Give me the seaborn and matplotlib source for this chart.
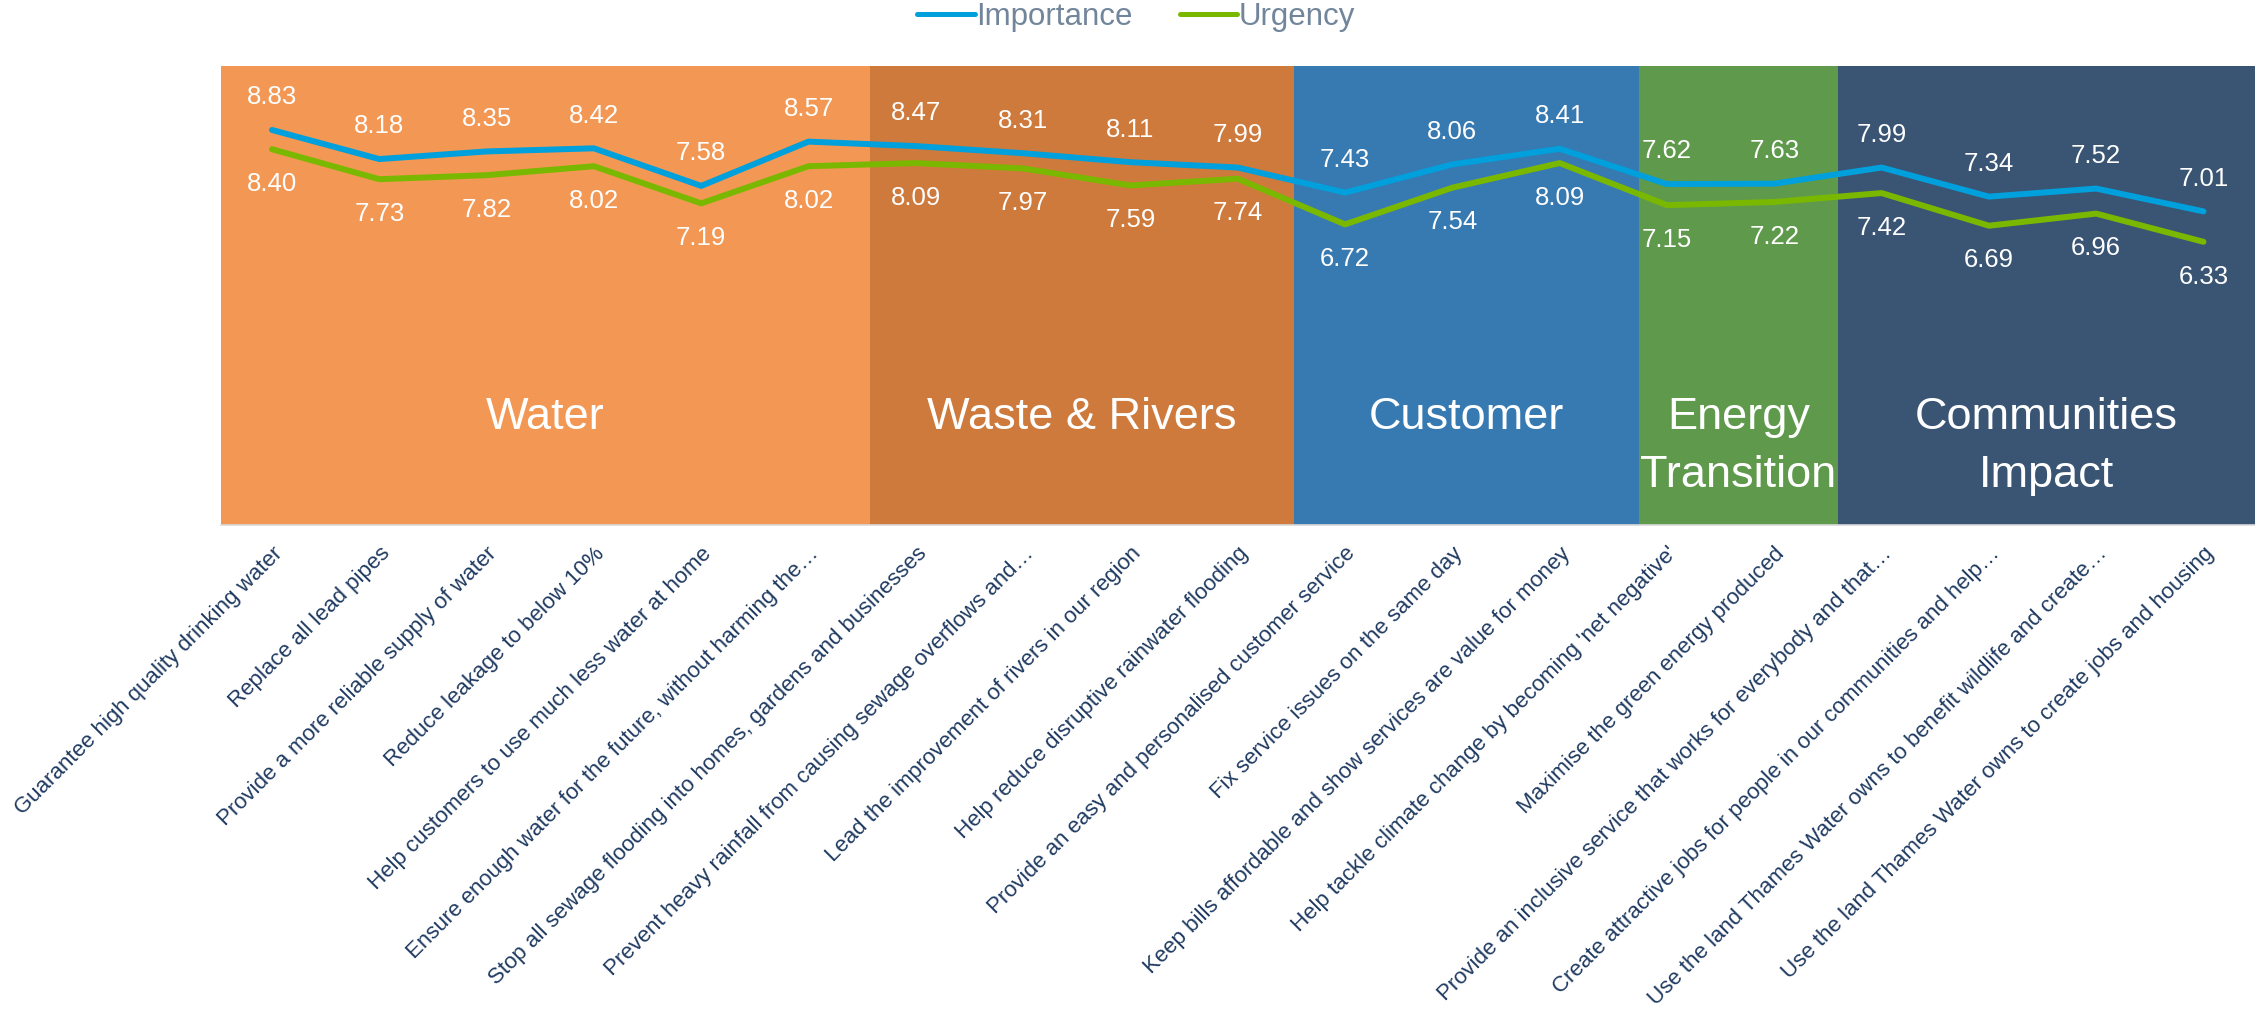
import numpy as np
import pandas as pd
import matplotlib
matplotlib.use('Agg')
import matplotlib.pyplot as plt
from matplotlib.lines import Line2D
import seaborn as sns

statements = [
    "Guarantee high quality drinking water",
    "Replace all lead pipes",
    "Provide a more reliable supply of water",
    "Reduce leakage to below 10%",
    "Help customers to use much less water at home",
    "Ensure enough water for the future, without harming the\u2026",
    "Stop all sewage flooding into homes, gardens and businesses",
    "Prevent heavy rainfall from causing sewage overflows and\u2026",
    "Lead the improvement of rivers in our region",
    "Help reduce disruptive rainwater flooding",
    "Provide an easy and personalised customer service",
    "Fix service issues on the same day",
    "Keep bills affordable and show services are value for money",
    "Help tackle climate change by becoming 'net negative'",
    "Maximise the green energy produced",
    "Provide an inclusive service that works for everybody and that\u2026",
    "Create attractive jobs for people in our communities and help\u2026",
    "Use the land Thames Water owns to benefit wildlife and create\u2026",
    "Use the land Thames Water owns to create jobs and housing",
]
importance = [8.83, 8.18, 8.35, 8.42, 7.58, 8.57, 8.47, 8.31, 8.11, 7.99,
              7.43, 8.06, 8.41, 7.62, 7.63, 7.99, 7.34, 7.52, 7.01]
urgency = [8.40, 7.73, 7.82, 8.02, 7.19, 8.02, 8.09, 7.97, 7.59, 7.74,
           6.72, 7.54, 8.09, 7.15, 7.22, 7.42, 6.69, 6.96, 6.33]

groups = ["Water", "Waste & Rivers", "Customer", "Energy\nTransition", "Communities\nImpact"]
group_colors = ["#F29854", "#CE7A3C", "#3779B1", "#5F9A4C", "#3A5574"]
group_edges = [-0.475, 5.57, 9.52, 12.74, 14.59, 18.48]
series_names = ["Importance", "Urgency"]
series_colors = ["#00A0DC", "#7AB800"]

sns.set_theme(style="white")
plt.rcParams["font.family"] = ["Liberation Sans", "DejaVu Sans"]

W, H = 2255, 1010
fig = plt.figure(figsize=(W / 100, H / 100), dpi=100)
ax = fig.add_axes([221 / W, 1 - 525 / H, 1 - 221 / W, 459 / H])

line_step = 58 / 459
for i, g in enumerate(groups):
    ax.axvspan(group_edges[i], group_edges[i + 1], color=group_colors[i], lw=0, zorder=0)
    xc = (group_edges[i] + group_edges[i + 1]) / 2
    for k, part in enumerate(g.split("\n")):
        ax.text(xc, 0.209 - k * line_step, part,
                transform=ax.get_xaxis_transform(), ha="center", va="baseline",
                color="white", fontsize=32.5, zorder=1)

n = len(statements)
df = pd.DataFrame({
    "x": list(range(n)) * 2,
    "value": importance + urgency,
    "series": [series_names[0]] * n + [series_names[1]] * n,
})
sns.lineplot(data=df, x="x", y="value", hue="series",
             palette=dict(zip(series_names, series_colors)),
             linewidth=4.3, ax=ax, legend=False, zorder=3,
             solid_capstyle="round")

for i, v in enumerate(importance):
    ax.annotate(f"{v:.2f}", (i, v), xytext=(0, 23.5), textcoords="offset points",
                ha="center", va="center", color="white", fontsize=18.5, zorder=4)
for i, v in enumerate(urgency):
    ax.annotate(f"{v:.2f}", (i, v), xytext=(0, -25), textcoords="offset points",
                ha="center", va="center", color="white", fontsize=18.5, zorder=4)

ax.set_xlim(group_edges[0], group_edges[-1])
ax.set_ylim(0, 10.26)
ax.set_yticks([])
ax.set_xlabel("")
ax.set_ylabel("")
ax.set_xticks(range(n))
ax.set_xticklabels(statements, rotation=45, ha="right", va="top",
                   rotation_mode="anchor", fontsize=16, color="#1F3A60")
ax.tick_params(axis="x", length=0, pad=13)
for s in ["left", "right", "top"]:
    ax.spines[s].set_visible(False)
ax.spines["bottom"].set_color("#D9D9D9")
ax.spines["bottom"].set_linewidth(1.2)

handles = [Line2D([0], [0], color=c, lw=3.6, solid_capstyle="round") for c in series_colors]
fig.legend(handles, series_names, loc="center", bbox_to_anchor=(1136 / W, 1 - 17 / H),
           ncol=2, frameon=False, fontsize=22.5, handlelength=1.85, handletextpad=0.05,
           columnspacing=1.5, labelcolor="#72869B")

fig.savefig("out.png", dpi=100)
